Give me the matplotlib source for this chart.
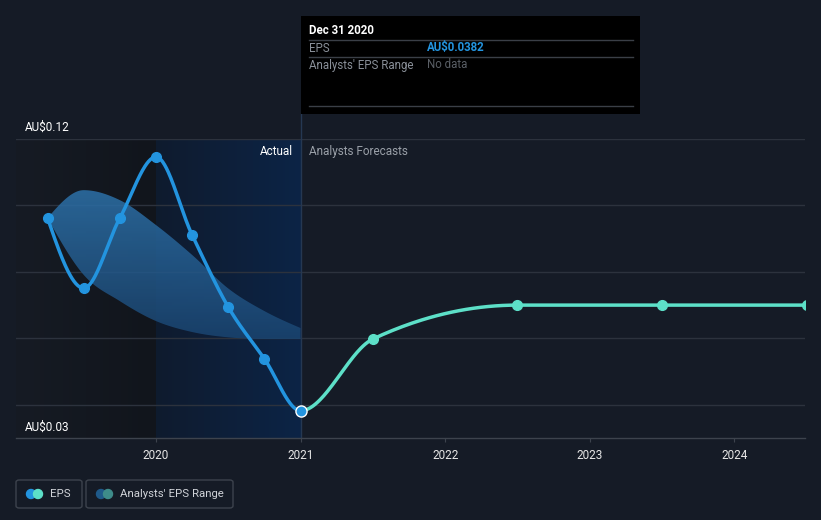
import numpy as np
import matplotlib
matplotlib.use("Agg")
import matplotlib.pyplot as plt
from matplotlib.patches import FancyBboxPatch, Rectangle, Ellipse
from matplotlib.colors import LinearSegmentedColormap

plt.rcParams['font.family'] = ['Roboto', 'DejaVu Sans']

# ---------------- data ----------------
actual_x = [2019.25, 2019.5, 2019.75, 2020.0, 2020.25, 2020.5, 2020.75, 2021.0]
actual_eps = [0.0962, 0.0751, 0.0962, 0.1146, 0.0911, 0.0694, 0.0538, 0.0382]

forecast_x = [2021.0, 2021.5, 2022.5, 2023.5, 2024.5]
forecast_eps = [0.0382, 0.0598, 0.0700, 0.0700, 0.0700]

range_x = [2019.25, 2019.5, 2019.75, 2020.0, 2020.25, 2020.5, 2020.75, 2021.0]
range_high = [0.0962, 0.1046, 0.1016, 0.0941, 0.0851, 0.0750, 0.0682, 0.0631]
range_low = [0.0962, 0.0791, 0.0712, 0.0652, 0.0619, 0.0603, 0.0598, 0.0598]

year_ticks = [2020, 2021, 2022, 2023, 2024]
y_labels = ["AU$0.12", "AU$0.03"]
grid_vals = [0.04, 0.06, 0.08, 0.10, 0.12]

tooltip_date = "Dec 31 2020"
tooltip_eps = "AU$0.0382"
tooltip_range = "No data"

# ---------------- helpers ----------------
def monotone(xs, ys, n=60):
    xs = np.asarray(xs, float); ys = np.asarray(ys, float)
    h = np.diff(xs); s = np.diff(ys) / h
    m = np.zeros(len(xs))
    for i in range(1, len(xs) - 1):
        s0, s1 = s[i - 1], s[i]
        p = (s0 * h[i] + s1 * h[i - 1]) / (h[i - 1] + h[i])
        m[i] = (np.sign(s0) + np.sign(s1)) * min(abs(s0), abs(s1), 0.5 * abs(p))
    m[0] = (3 * s[0] - m[1]) / 2
    m[-1] = (3 * s[-1] - m[-2]) / 2
    ox, oy = [], []
    for i in range(len(xs) - 1):
        t = np.linspace(0, 1, n)
        x0_, x1_ = xs[i], xs[i + 1]
        dx = x1_ - x0_
        y0, y1 = ys[i], ys[i + 1]
        m0, m1 = m[i] * dx, m[i + 1] * dx
        h00 = 2 * t**3 - 3 * t**2 + 1
        h10 = t**3 - 2 * t**2 + t
        h01 = -2 * t**3 + 3 * t**2
        h11 = t**3 - t**2
        ox.append(x0_ + t * dx)
        oy.append(h00 * y0 + h10 * m0 + h01 * y1 + h11 * m1)
    return np.concatenate(ox), np.concatenate(oy)

# ---------------- figure ----------------
W, H = 821, 520
BG = '#151b26'
fig = plt.figure(figsize=(W / 100, H / 100), dpi=100, facecolor=BG)

def fx(px): return px / W
def fy(py): return 1 - py / H

ax = fig.add_axes([fx(16), fy(438), fx(805) - fx(16), fy(139) - fy(438)])
ax.set_facecolor(BG)
x0 = 2020 + (16 - 156) / 144.6
x1 = 2020 + (805 - 156) / 144.6
ax.set_xlim(x0, x1)
ax.set_ylim(0.03, 0.12)

# shaded regions
grad_h = np.linspace(0, 1, 256).reshape(1, -1)
cm_left = LinearSegmentedColormap.from_list('l', ['#161b24', '#11151c'])
ax.imshow(grad_h, extent=[x0, 2020, 0.03, 0.12], aspect='auto', cmap=cm_left, zorder=0)
cm_act = LinearSegmentedColormap.from_list('a', ['#0f1b2e', '#0c2446'])
ax.imshow(grad_h, extent=[2020, 2021, 0.03, 0.12], aspect='auto', cmap=cm_act, zorder=0)

# grid
for g in grid_vals:
    ax.axhline(g, color='#2c323d', lw=1, zorder=1)

# analysts range band with gradient
bx, bh = monotone(range_x, range_high)
_, bl = monotone(range_x, range_low)
poly = ax.fill_between(bx, bl, bh, color='none', lw=0, zorder=2)
cm_band = LinearSegmentedColormap.from_list('b', ['#1a436e', '#2e74ad'])
vgrad = np.linspace(0, 1, 256).reshape(-1, 1)
im = ax.imshow(vgrad, extent=[2019.25, 2021.0, 0.058, 0.106], origin='lower',
               aspect='auto', cmap=cm_band, alpha=0.85, zorder=2)
im.set_clip_path(poly.get_paths()[0], transform=ax.transData)

# vertical divider at 2021
ax.axvline(2021, color='#253852', lw=1, zorder=2)

# EPS line: one smooth curve through actual + forecast, coloured by segment
all_x = actual_x + forecast_x[1:]
all_y = actual_eps + forecast_eps[1:]
cx, cy = monotone(all_x, all_y)
split = actual_x[-1]
ax.plot(cx[cx <= split], cy[cx <= split], color='#2394df', lw=2.5, zorder=4,
        solid_capstyle='round')
ax.plot(cx[cx >= split], cy[cx >= split], color='#5de0c8', lw=2.5, zorder=4,
        solid_capstyle='round')
ax.plot(actual_x[:-1], actual_eps[:-1], 'o', color='#2394df', ms=7, zorder=5)
ax.plot(forecast_x[1:], forecast_eps[1:], 'o', color='#5de0c8', ms=7, zorder=5)
ax.plot([actual_x[-1]], [actual_eps[-1]], 'o', color='#2394df', ms=8,
        mec='white', mew=1, zorder=6)

# axes styling
for sp in ['top', 'right', 'left']:
    ax.spines[sp].set_visible(False)
ax.spines['bottom'].set_color('#3d434d')
ax.spines['bottom'].set_linewidth(1)
ax.set_yticks([])
ax.set_xticks(year_ticks)
ax.set_xticklabels([str(y) for y in year_ticks], fontsize=8.5)
ax.tick_params(axis='x', colors='#3d434d', length=3, pad=5, labelcolor='#e6e6e6')

# labels
fig.text(fx(25), fy(127), y_labels[0], color='#ffffff', fontsize=8.5, va='center', ha='left')
fig.text(fx(25), fy(427), y_labels[1], color='#ffffff', fontsize=8.5, va='center', ha='left')
fig.text(fx(293), fy(151), "Actual", color='#ffffff', fontsize=8.5, va='center', ha='right')
fig.text(fx(309), fy(151), "Analysts Forecasts", color='#9aa0a8', fontsize=8.5, va='center', ha='left')

# vertical line above plot (under tooltip)
fig.add_artist(plt.Line2D([fx(301), fx(301)], [fy(114), fy(139)], color='#253852', lw=1))

# tooltip
fig.add_artist(Rectangle((fx(301), fy(114)), fx(640) - fx(301), fy(16) - fy(114),
                         facecolor='#000000', edgecolor='none', zorder=10))
for ly in [40, 57, 106]:
    fig.add_artist(plt.Line2D([fx(309), fx(633)], [fy(ly), fy(ly)], color='#3a3f47', lw=1, zorder=11))
fig.text(fx(309), fy(31), tooltip_date, color='#ffffff', fontsize=8.3, fontweight='bold', va='center', zorder=12)
fig.text(fx(309), fy(48), "EPS", color='#8a9099', fontsize=8.3, va='center', zorder=12)
fig.text(fx(427), fy(48), tooltip_eps, color='#2394df', fontsize=8.3, fontweight='bold', va='center', zorder=12)
fig.text(fx(309), fy(65), "Analysts' EPS Range", color='#8a9099', fontsize=8.3, va='center', zorder=12)
fig.text(fx(427), fy(65), tooltip_range, color='#5a5f66', fontsize=8.3, va='center', zorder=12)

# legend
def legend_box(x_left, x_right, label, c1, c2):
    fig.add_artist(FancyBboxPatch((fx(x_left), fy(508)), fx(x_right) - fx(x_left), fy(480) - fy(508),
                                  boxstyle='round,pad=0,rounding_size=0.004',
                                  facecolor='none', edgecolor='#3d434d', lw=1))
    cyy = fy(494)
    r = 4.5
    fig.add_artist(Ellipse((fx(x_left + 15), cyy), 2 * r / W, 2 * r / H, color=c1))
    fig.add_artist(Ellipse((fx(x_left + 22), cyy), 2 * r / W, 2 * r / H, color=c2))
    fig.text(fx(x_left + 34), cyy, label, color='#d0d3d8', fontsize=8.2, va='center', ha='left')

legend_box(16, 82, "EPS", '#2394df', '#5de0c8')
legend_box(86, 233, "Analysts' EPS Range", '#1f5a8a', '#3e8c8a')

fig.savefig('out.png', dpi=100, facecolor=BG)
